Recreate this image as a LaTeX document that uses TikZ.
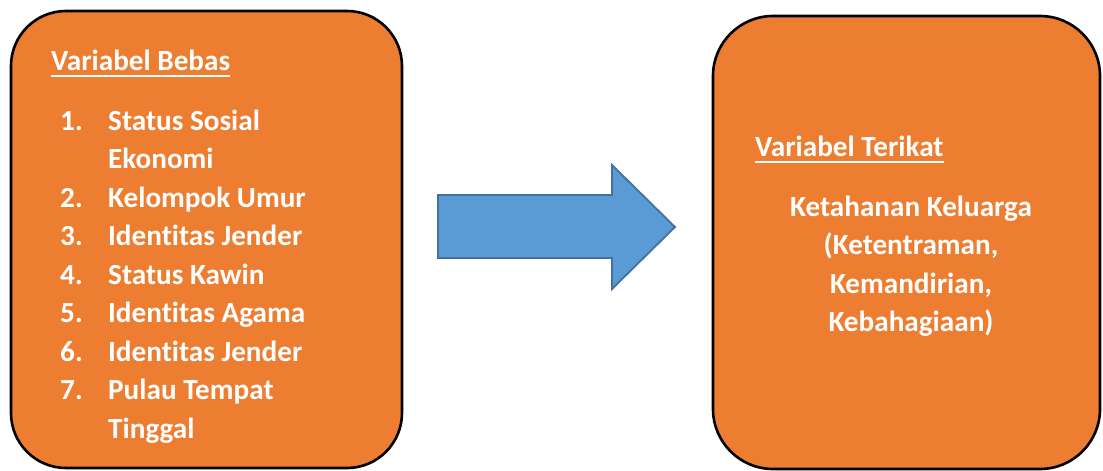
\documentclass[tikz,border=0pt]{standalone}
\usepackage{fontspec}
\setmainfont{Carlito}[BoldFont={Carlito Bold}, Ligatures=NoCommon]
\usetikzlibrary{calc}
\definecolor{boxorange}{HTML}{ED7D31}
\definecolor{arrowblue}{HTML}{5B9BD5}
\definecolor{arrowedge}{HTML}{41719C}
\tikzset{
  varbox/.style={draw=black, line width=2.6pt, fill=boxorange, rounded corners=55pt},
  txt/.style={text=white, font=\bfseries\fontsize{29.2}{38.5}\selectfont, inner sep=0pt},
  uline/.style={white, line width=1.7pt},
}
\begin{document}
\begin{tikzpicture}[x=1pt,y=-1pt]
\useasboundingbox (0,0) rectangle (1103,471);
% boxes
\draw[varbox] (11,11) rectangle (402,468);
\node[inner sep=0pt] (bebas) at (206.5,239.5) {};
\draw[varbox, rounded corners=60pt] (713,16) rectangle (1100,469);
\node[inner sep=0pt] (terikat) at (906.5,242.5) {};
% arrow
\draw[fill=arrowblue, draw=arrowedge, line width=1.8pt, line join=miter]
  (438,195) -- (612,195) -- (612,165) -- (675,227) -- (612,289) -- (612,258) -- (438,258) -- cycle;
% left texts
\node[txt, anchor=base west] (tb) at (51,70) {Variabel Bebas};
\draw[uline] ($(tb.base west)+(0,6)$) -- ($(tb.base east)+(0,6)$);
\foreach \n/\y/\t in {1/130/Status Sosial, 2/207/Kelompok Umur, 3/245.5/Identitas Jender, 4/284/Status Kawin, 5/322.5/Identitas Agama, 6/361/Identitas Jender, 7/399.5/Pulau Tempat}{
  \node[txt, anchor=base west] (num\n) at (60,\y) {\n.};
  \node[txt, anchor=base west] (item\n) at (108,\y) {\t};
}
\node[txt, anchor=base west] (item1b) at (108,168.5) {Ekonomi};
\node[txt, anchor=base west] (item7b) at (108,438) {Tinggal};
% right texts
\node[txt, anchor=base west] (tt) at (755,156) {Variabel Terikat};
\draw[uline] ($(tt.base west)+(0,6)$) -- ($(tt.base east)+(0,6)$);
\node[txt, anchor=base] (kk1) at (911,216) {Ketahanan Keluarga};
\node[txt, anchor=base] (kk2) at (911,254.5) {(Ketentraman,};
\node[txt, anchor=base] (kk3) at (911,293) {Kemandirian,};
\node[txt, anchor=base] (kk4) at (911,331.5) {Kebahagiaan)};
\end{tikzpicture}
\end{document}
